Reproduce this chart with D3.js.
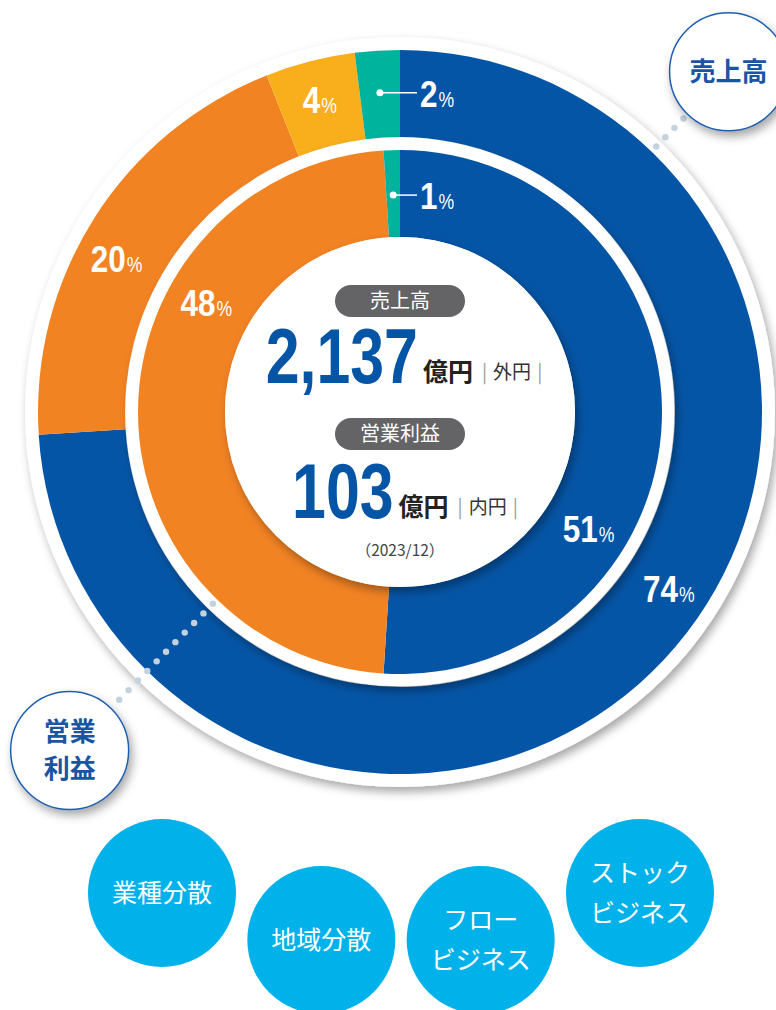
<!DOCTYPE html>
<html>
<head>
<meta charset="utf-8">
<script src="https://cdn.jsdelivr.net/npm/d3@7"></script>
<style>
  html, body { margin: 0; padding: 0; background: #fff; }
  svg { display: block; }
</style>
</head>
<body>
<div id="chart"></div>
<script>
// ---- data ----
const segments = ["seg1", "seg2", "seg3", "seg4"];
const salesShare = [74, 20, 4, 2];           // outer ring 売上高
const profitSegments = ["seg1", "seg2", "seg4"];
const profitShare = [51, 48, 1];             // inner ring 営業利益
const centerTitles = ["売上高", "営業利益"];
const centerValues = ["2,137", "103"];
const centerUnits = ["億円", "億円"];
const centerNotes = ["外円", "内円"];
const period = "（2023/12）";
const features = [["業種分散"], ["地域分散"], ["フロー", "ビジネス"], ["ストック", "ビジネス"]];

const W = 776, H = 1010;
const cx = 400, cy = 412;
const numFont = "'Liberation Sans', Arial, sans-serif";
const jpFont = "'Noto Sans CJK JP', 'Noto Sans', sans-serif";
const blue = "#0555a6";

const color = d3.scaleOrdinal()
  .domain(segments)
  .range([blue, "#f28323", "#f9ae1b", "#00b39c"]);

const svg = d3.select("#chart").append("svg")
  .attr("width", W)
  .attr("height", H);

const defs = svg.append("defs");
const shadow = defs.append("filter").attr("id", "shadow")
  .attr("x", "-20%").attr("y", "-20%").attr("width", "140%").attr("height", "140%");
shadow.append("feDropShadow")
  .attr("dx", 3).attr("dy", 5).attr("stdDeviation", 5)
  .attr("flood-color", "#000").attr("flood-opacity", 0.35);

const g = svg.append("g").attr("transform", `translate(${cx},${cy})`);

const pie = d3.pie().sort(null).value(d => d.v);
const outerData = pie(salesShare.map((v, i) => ({ k: segments[i], v: v })));
const innerData = pie(profitShare.map((v, i) => ({ k: profitSegments[i], v: v })));

const outerArc = d3.arc().innerRadius(275).outerRadius(362);
const innerArc = d3.arc().innerRadius(175).outerRadius(262);

// white border behind the whole donut
g.append("circle").attr("r", 375).attr("fill", "#fff").attr("filter", "url(#shadow)");

g.append("g").selectAll("path")
  .data(outerData)
  .enter().append("path")
  .attr("d", outerArc)
  .attr("fill", d => color(d.data.k));

// gap between the two rings
g.append("circle").attr("r", 274).attr("fill", "#fff").attr("filter", "url(#shadow)");

g.append("g").selectAll("path")
  .data(innerData)
  .enter().append("path")
  .attr("d", innerArc)
  .attr("fill", d => color(d.data.k));

// center disc
g.append("circle").attr("r", 175).attr("fill", "#fff").attr("filter", "url(#shadow)");

// condensed bold numbers: scale glyphs horizontally, return drawn width
function condensed(parent, str, size, sx, fill, bold) {
  const t = parent.append("text")
    .attr("font-family", numFont)
    .attr("font-weight", bold ? "bold" : "normal")
    .attr("font-size", size)
    .attr("fill", fill)
    .text(str);
  const w = t.node().getComputedTextLength() * sx;
  return { node: t, w: w, sx: sx };
}
function place(item, x) {
  item.node.attr("transform", `translate(${x},0) scale(${item.sx},1)`);
}

// ---- percentage labels ----
const deg = Math.PI / 180;
function pos(a, r) { return [r * Math.sin(a), -r * Math.cos(a)]; }
function mid(d) { return (d.startAngle + d.endAngle) / 2; }

// label angle overrides for the big slices (degrees)
const outerAngle = [123.4, 298.3, null, null];
const innerAngle = [121.9, 299.3, null];

function pctLabel(x, y, v, anchor) {
  const lg = g.append("g");
  const n = condensed(lg, String(v), 37, 0.85, "#fff", true);
  const p = condensed(lg, "%", 22, 0.8, "#fff", false);
  place(n, 0);
  place(p, n.w + 1);
  const total = n.w + 1 + p.w;
  const x0 = anchor === "middle" ? x - total / 2 : x;
  lg.attr("transform", `translate(${x0},${y + 13})`);
}

function ringLabels(data, angles, r, rSmall) {
  data.forEach((d, i) => {
    if (angles[i] != null) {
      const p = pos(angles[i] * deg, r);
      pctLabel(p[0], p[1], d.data.v, "middle");
    } else if (d.data.v >= 3) {
      const p = pos(mid(d), r);
      pctLabel(p[0], p[1], d.data.v, "middle");
    } else {
      const p = pos(mid(d), rSmall);
      g.append("circle").attr("cx", p[0]).attr("cy", p[1]).attr("r", 3.5).attr("fill", "#fff");
      g.append("line")
        .attr("x1", p[0]).attr("y1", p[1])
        .attr("x2", 17).attr("y2", p[1])
        .attr("stroke", "#fff").attr("stroke-width", 1.5);
      pctLabel(20, p[1] + 1, d.data.v, "start");
    }
  });
}
ringLabels(outerData, outerAngle, 322, 320);
ringLabels(innerData, innerAngle, 222, 217);

// ---- center text ----
const rowY = [-29, 106];    // baselines of the big numbers
const rowX = [4, 5];        // row centers
const pillY = [-111, 22];   // pill centers
centerTitles.forEach((t, i) => {
  g.append("rect")
    .attr("x", -65).attr("y", pillY[i] - 16)
    .attr("width", 130).attr("height", 32).attr("rx", 16)
    .attr("fill", "#646466");
  g.append("text")
    .attr("x", 0).attr("y", pillY[i] + 7)
    .attr("text-anchor", "middle")
    .attr("fill", "#fff")
    .attr("font-family", jpFont)
    .attr("font-size", 20)
    .text(t);

  const rg = g.append("g");
  const num = condensed(rg, centerValues[i], 77, 0.79, blue, true);
  place(num, 0);
  let x = num.w + 5;
  const unit = rg.append("text")
    .attr("x", x).attr("y", -2)
    .attr("font-family", jpFont).attr("font-weight", "bold")
    .attr("font-size", 25).attr("fill", "#222")
    .text(centerUnits[i]);
  x += unit.node().getComputedTextLength() + 9;
  const note = rg.append("text")
    .attr("x", x).attr("y", -4)
    .attr("font-family", jpFont).attr("font-size", 19);
  note.append("tspan").attr("fill", "#999").text("|");
  note.append("tspan").attr("dx", 6).attr("fill", "#333").text(centerNotes[i]);
  note.append("tspan").attr("dx", 6).attr("fill", "#999").text("|");
  x += note.node().getComputedTextLength() + 12;
  rg.attr("transform", `translate(${rowX[i] - x / 2},${rowY[i]})`);
});

g.append("text")
  .attr("x", 0).attr("y", 144)
  .attr("text-anchor", "middle")
  .attr("font-family", jpFont)
  .attr("font-size", 15.5)
  .attr("fill", "#444")
  .text(period);

// ---- callouts ----
const callouts = [
  { lines: ["売上高"], angle: 44, from: 369, to: 408 },
  { lines: ["営業", "利益"], angle: 224.3, from: 268, to: 402 }
];
callouts.forEach(c => {
  const a = c.angle * deg;
  const n = Math.round((c.to - c.from) / 13.3);
  d3.range(n + 1).forEach(j => {
    const p = pos(a, c.from + j * (c.to - c.from) / n);
    g.append("circle").attr("cx", p[0]).attr("cy", p[1]).attr("r", 3.2).attr("fill", "#c2d2de");
  });
  const p = pos(a, 473);
  g.append("circle")
    .attr("cx", p[0]).attr("cy", p[1]).attr("r", 59)
    .attr("fill", "#fff")
    .attr("stroke", "#1f5fae").attr("stroke-width", 1.5)
    .attr("filter", "url(#shadow)");
  const t = g.append("text")
    .attr("text-anchor", "middle")
    .attr("font-family", jpFont).attr("font-weight", "bold")
    .attr("font-size", 26).attr("fill", "#1a55a3");
  c.lines.forEach((l, j) => {
    t.append("tspan")
      .attr("x", p[0])
      .attr("y", p[1] + 9 + (j - (c.lines.length - 1) / 2) * 37)
      .text(l);
  });
});

// ---- feature bubbles ----
const fx = d3.scalePoint().domain(d3.range(features.length)).range([162, 640]);
const fy = i => (i === 0 || i === features.length - 1) ? 893 : 940;
const fg = svg.append("g");
features.forEach((f, i) => {
  fg.append("circle")
    .attr("cx", fx(i)).attr("cy", fy(i)).attr("r", 74)
    .attr("fill", "#00b2e9");
  const t = fg.append("text")
    .attr("text-anchor", "middle")
    .attr("font-family", jpFont)
    .attr("font-size", 25).attr("fill", "#fff");
  f.forEach((l, j) => {
    t.append("tspan")
      .attr("x", fx(i))
      .attr("y", fy(i) + 9 + (j - (f.length - 1) / 2) * 40)
      .text(l);
  });
});
</script>
</body>
</html>
